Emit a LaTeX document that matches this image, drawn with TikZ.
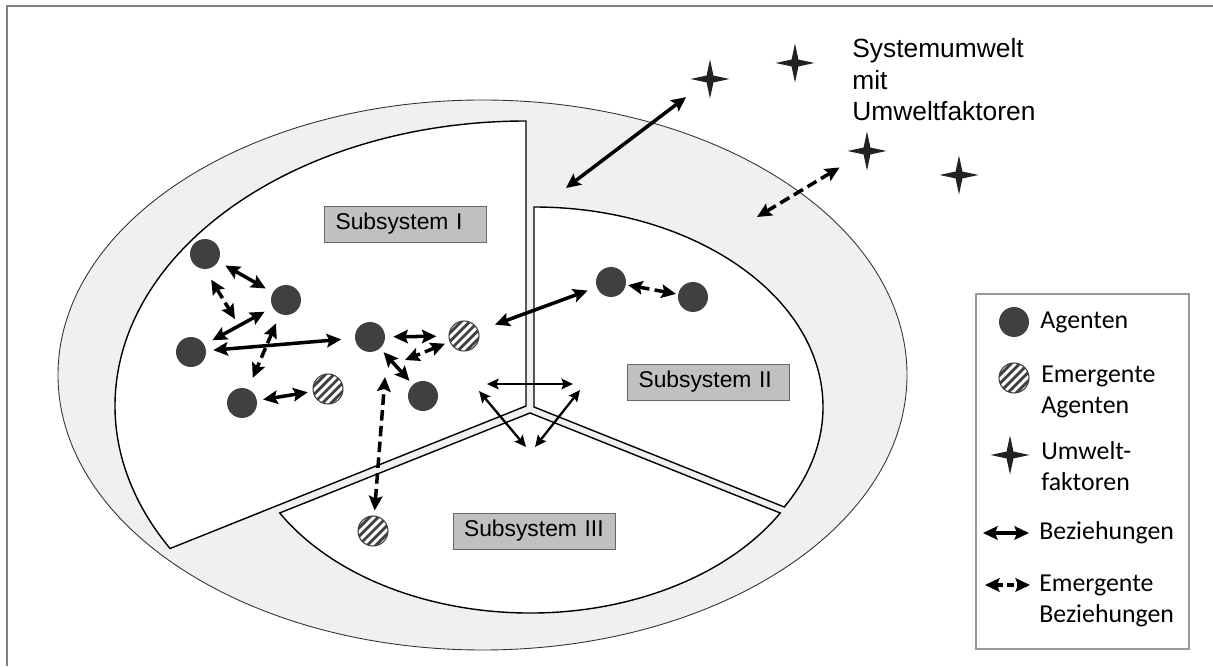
\documentclass[tikz,border=0pt]{standalone}
\usepackage{fontspec}
\setmainfont{Liberation Sans}
\newfontfamily\legendfont{Carlito}
\usetikzlibrary{arrows.meta,shapes.geometric,calc}
\definecolor{agentgray}{HTML}{404040}
\definecolor{ringgray}{HTML}{F0F0F0}
\definecolor{boxgray}{HTML}{C0C0C0}
\definecolor{framegray}{HTML}{808080}
\definecolor{stargray}{HTML}{222222}

\begin{document}
\begin{tikzpicture}[x=0.02cm,y=0.02cm,
  agent/.style={circle,fill=agentgray,inner sep=0pt,minimum size=6mm},
  emergent/.style={circle,draw=agentgray,line width=0.6pt,fill=white,inner sep=0pt,minimum size=6mm,
    path picture={\foreach \k in {-3,...,3}
      \draw[agentgray,line width=1.6pt] ($(path picture bounding box.center)+(\k*4.3,\k*-4.3)+(-16,-16)$) -- ++(32,32);}},
  factor/.style={star,star points=4,star point ratio=4,fill=stargray,inner sep=0pt,minimum size=7.8mm},
  subsys/.style={draw=black!60,fill=boxgray,minimum height=7.2mm,text width=2.8cm,inner xsep=2.2mm,
    align=left,font=\fontsize{13}{15}\selectfont},
  legendtext/.style={anchor=west,inner sep=0pt,align=left,font=\legendfont\fontsize{14.7}{17.5}\selectfont},
  rel/.style={line width=2pt,{Stealth[length=2.9mm,width=2.7mm,inset=0.5mm]}-{Stealth[length=2.9mm,width=2.7mm,inset=0.5mm]}},
  emrel/.style={rel,dash pattern=on 6pt off 3pt},
  subrel/.style={line width=1.3pt,{Stealth[length=2.3mm,width=2.1mm,inset=0.4mm]}-{Stealth[length=2.3mm,width=2.1mm,inset=0.4mm]}}
]
\useasboundingbox (0,0) rectangle (1213,666);
\draw[framegray,line width=0.8pt] (7,0) -- (7,660) -- (1213,660);

% system and its three subsystems
\draw[draw=black!80,fill=ringgray,line width=0.5pt] (482.5,291) ellipse [x radius=424.5,y radius=275];
\draw[fill=white,line width=0.8pt] (526,260) -- (526,545) arc[start angle=90,end angle=210,x radius=411,y radius=285] -- cycle;
\draw[fill=white,line width=0.8pt] (534,259) -- (534,459) arc[start angle=90,end angle=-30,x radius=289,y radius=200] -- cycle;
\draw[fill=white,line width=0.8pt] (530,253) -- (279.7,153) arc[start angle=210,end angle=330,x radius=289,y radius=200] -- cycle;

\node[subsys] (sub1) at (405.5,442) {Subsystem I};
\node[subsys] (sub2) at (708.5,284) {Subsystem II};
\node[subsys] (sub3) at (534,135) {Subsystem III};

\node[anchor=north west,inner sep=0pt,align=left,font=\fontsize{15}{18}\selectfont] (umwelt) at (852,628) {Systemumwelt\\mit\\Umweltfaktoren};

% agents
\node[agent] (a1) at (205,412) {};
\node[agent] (a2) at (286,366) {};
\node[agent] (a3) at (191,314) {};
\node[agent] (a4) at (242,263) {};
\node[agent] (a5) at (370,329) {};
\node[agent] (a6) at (423,270) {};
\node[agent] (a7) at (611,384) {};
\node[agent] (a8) at (693,369) {};
\node[emergent] (e1) at (328,277) {};
\node[emergent] (e2) at (464,330) {};
\node[emergent] (e3) at (373,135) {};

% environment factors
\node[factor] (s1) at (710,587) {};
\node[factor] (s2) at (795,603) {};
\node[factor] (s3) at (867,515) {};
\node[factor] (s4) at (959,491) {};

\coordinate (c1) at (235,347);
\coordinate (c2) at (405,306);
\coordinate (c3) at (385,289);
\coordinate (h1) at (487,282);
\coordinate (h2) at (573,282);
\coordinate (l1) at (479,275);
\coordinate (l2) at (526,219);
\coordinate (r1) at (580,276);
\coordinate (r2) at (535,219);
\coordinate (ring1) at (566,478);
\coordinate (ring2) at (757,449);

% relations
\draw[rel,shorten <=1.6mm,shorten >=1.6mm] (a1) -- (a2);
\draw[emrel,shorten <=2.4mm] (a1.south) -- (c1);
\draw[rel,shorten <=1.8mm,shorten >=1.8mm] (a3) -- (a2);
\draw[emrel,shorten <=2mm,shorten >=2.4mm] (a2) -- (a4);
\draw[rel,shorten <=1.4mm,shorten >=2.7mm] (a3) -- (a5);
\draw[rel,shorten <=1.2mm,shorten >=1mm] (a4) -- (e1);
\draw[rel,shorten <=1.6mm,shorten >=2.4mm] (a5) -- (e2);
\draw[emrel,shorten <=1mm] (e2) -- (c2);
\draw[rel,shorten <=1mm,shorten >=1mm] (a5) -- (a6);
\draw[emrel,shorten <=1mm] (e3) -- (c3);
\draw[rel,shorten <=3.5mm,shorten >=1.9mm] (e2) -- (a7);
\draw[emrel,shorten <=0.4mm,shorten >=0.4mm] (a7) -- (a8);
\draw[subrel] (h1) -- (h2);
\draw[subrel] (l1) -- (l2);
\draw[subrel] (r1) -- (r2);
\draw[rel,shorten <=6mm] (s1.center) -- (ring1);
\draw[emrel,shorten <=6.4mm] (s3.center) -- (ring2);

% legend
\draw[draw=black!40,line width=0.6pt] (976,17) rectangle (1189,372);
\node[agent] (la) at (1014,344) {};
\node[legendtext] (lta) at (1040,344) {Agenten};
\node[emergent] (le) at (1014,288) {};
\node[legendtext] (lte) at (1041,274) {Emergente\\Agenten};
\node[factor] (ls) at (1010,211) {};
\node[legendtext] (lts) at (1041,200) {Umwelt-\\faktoren};
\coordinate (lr1) at (983,133);
\coordinate (lr2) at (1029,133);
\draw[rel] (lr1) -- (lr2);
\node[legendtext] (ltr) at (1039,133) {Beziehungen};
\coordinate (ld1) at (985,81);
\coordinate (ld2) at (1030,81);
\draw[emrel,dash pattern=on 4pt off 2pt] (ld1) -- (ld2);
\node[legendtext] (ltd) at (1039,65) {Emergente\\Beziehungen};
\end{tikzpicture}
\end{document}
